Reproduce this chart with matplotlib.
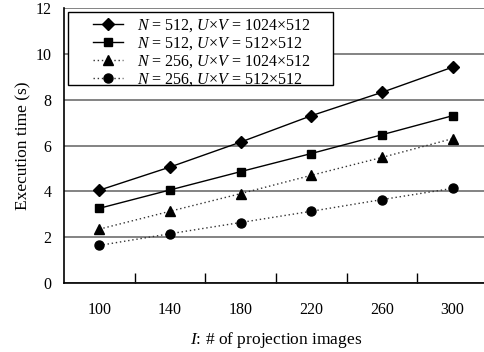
import matplotlib
matplotlib.use("Agg")
import matplotlib.pyplot as plt
from matplotlib.patches import Rectangle

# --------------------------
# DATA
# --------------------------
images = ["100", "140", "180", "220", "260", "300"]
n512_1024 = [4.05, 5.06, 6.15, 7.3, 8.32, 9.42]
n512_512 = [3.26, 4.06, 4.86, 5.65, 6.47, 7.3]
n256_1024 = [2.35, 3.13, 3.9, 4.7, 5.48, 6.3]
n256_512 = [1.64, 2.15, 2.64, 3.13, 3.64, 4.13]
labels = [r"$N$ = 512, $U$×$V$ = 1024×512",
          r"$N$ = 512, $U$×$V$ = 512×512",
          r"$N$ = 256, $U$×$V$ = 1024×512",
          r"$N$ = 256, $U$×$V$ = 512×512"]

# --------------------------
# STYLE
# --------------------------
plt.rcParams["font.family"] = ["Liberation Serif", "DejaVu Serif"]
plt.rcParams["mathtext.fontset"] = "custom"
plt.rcParams["mathtext.rm"] = "Liberation Serif"
plt.rcParams["mathtext.it"] = "Liberation Serif:italic"

fig = plt.figure(figsize=(4.84, 3.52), dpi=100)
ax = fig.add_axes([64 / 484, 69 / 352, 424 / 484, 275 / 352])

x = list(range(len(images)))
ax.plot(x, n512_1024, color="black", lw=1, marker="D", ms=6, zorder=3)
ax.plot(x, n512_512, color="black", lw=1, marker="s", ms=5.5, zorder=3)
ax.plot(x, n256_1024, color="#333333", lw=1, ls=(0, (1, 2)), marker="^", ms=7,
        mfc="black", mec="black", zorder=3)
ax.plot(x, n256_512, color="#333333", lw=1, ls=(0, (1, 2)), marker="o", ms=6.5,
        mfc="black", mec="black", zorder=3)

ax.set_xlim(-0.5, 5.5)
ax.set_ylim(0, 12)
ax.set_yticks(range(0, 13, 2))
ax.yaxis.grid(True, color="#7a7a7a", lw=1.3)
ax.set_axisbelow(True)
ax.tick_params(axis="y", length=0, pad=9, labelsize=11.5)

# category labels at bin centres, boundary ticks pointing in
ax.set_xticks([i + 0.5 for i in x[:-1]])
ax.set_xticklabels([])
ax.tick_params(axis="x", which="major", direction="in", length=7, width=1)
ax.set_xticks(x, minor=True)
ax.set_xticklabels(images, minor=True)
ax.tick_params(axis="x", which="minor", length=0, pad=14, labelsize=11.5)

for side in ["top", "right"]:
    ax.spines[side].set_visible(False)
ax.spines["left"].set_linewidth(1.2)
ax.spines["bottom"].set_linewidth(1.2)

ax.set_ylabel("Execution time (s)", fontsize=12.5, labelpad=3)
ax.set_xlabel(r"$I$: # of projection images", fontsize=12.5, labelpad=8)

# --------------------------
# LEGEND
# --------------------------
box = Rectangle((4 / 424, 198 / 275), 265 / 424, 73 / 275, transform=ax.transAxes,
                facecolor="white", edgecolor="black", lw=1, zorder=4)
ax.add_patch(box)
leg = ax.legend(labels, loc="upper left", bbox_to_anchor=(29 / 424, 0.967),
                frameon=False, fontsize=11.5, handlelength=1.9, handletextpad=0.85,
                labelspacing=0.08, borderaxespad=0, borderpad=0)
leg.set_zorder(5)

fig.savefig("out.png", dpi=100)
